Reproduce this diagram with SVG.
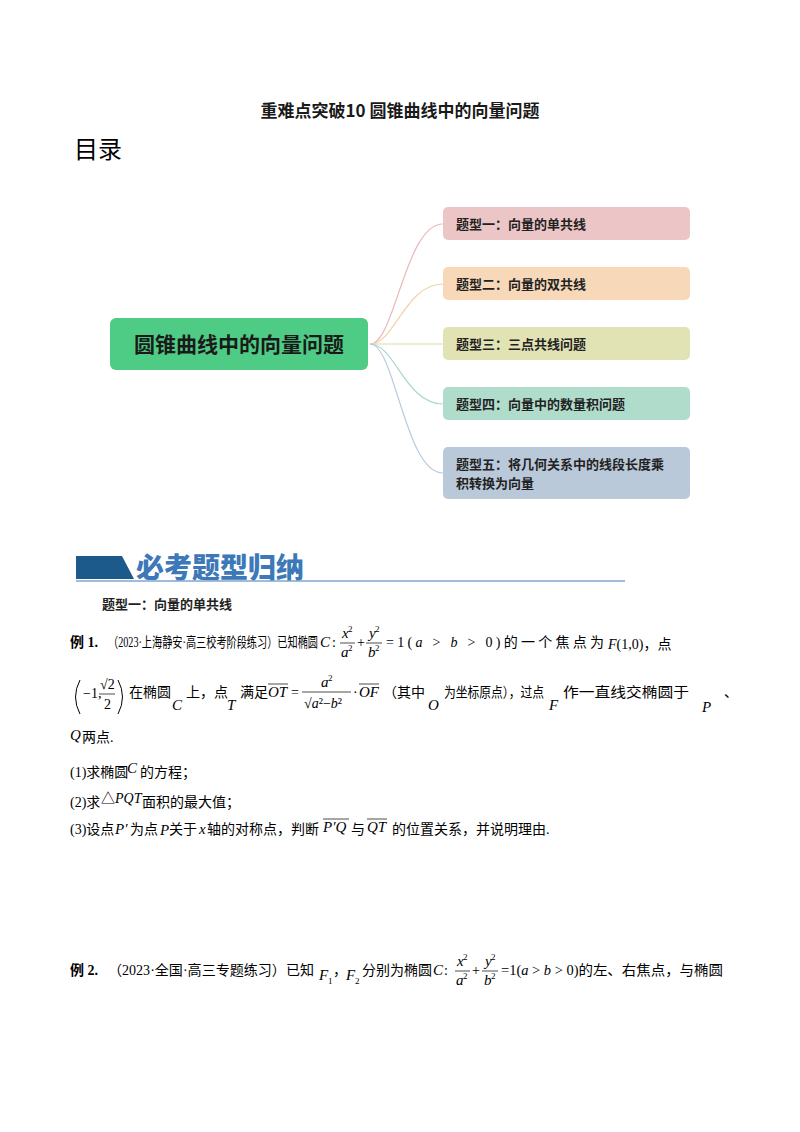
<svg xmlns="http://www.w3.org/2000/svg" width="800" height="1132" viewBox="0 0 800 1132">
<style>
.t{font-family:"Liberation Serif","Noto Sans CJK SC",serif;font-size:14px;fill:#000}
.h{font-family:"Noto Sans CJK SC",sans-serif;font-weight:bold;fill:#1a1a1a}
.b{font-family:"Noto Sans CJK SC",sans-serif;font-weight:bold;font-size:13px;fill:#222}
.m{font-family:"Liberation Serif",serif;font-style:italic;font-size:15px}
.s{font-family:"Liberation Serif",serif;font-size:9px}
.c{fill:none;stroke-width:1.2}
.v{stroke:#000;stroke-width:0.7}
</style>
<rect width="800" height="1132" fill="#fff"/>
<text class="h" x="400" y="117" font-size="17" text-anchor="middle">重难点突破10  圆锥曲线中的向量问题</text>
<text x="74" y="158" font-family="Noto Sans CJK SC,sans-serif" font-size="24" fill="#000">目录</text>
<g id="connectors">
<path class="c" stroke="#e8b8b8" d="M370 344 C395 344 405 224 443 224"/>
<path class="c" stroke="#f2d2a8" d="M370 344 C395 344 405 284 443 284"/>
<path class="c" stroke="#dcdca0" d="M370 344 L443 344"/>
<path class="c" stroke="#a8d8c8" d="M370 344 C395 344 405 404 443 404"/>
<path class="c" stroke="#b8cce0" d="M370 344 C395 344 405 473 443 473"/>
</g>
<g id="root"><rect x="110" y="318" width="258" height="52" rx="6" fill="#4ecb84"/><text class="h" x="239" y="352" font-size="21" text-anchor="middle">圆锥曲线中的向量问题</text></g>
<g id="n1"><rect x="443" y="207" width="247" height="33" rx="5" fill="#ecc6c6"/><text class="b" x="456" y="229">题型一：向量的单共线</text></g>
<g id="n2"><rect x="443" y="267" width="247" height="33" rx="5" fill="#f7d8b9"/><text class="b" x="456" y="289">题型二：向量的双共线</text></g>
<g id="n3"><rect x="443" y="327" width="247" height="33" rx="5" fill="#e1e3b4"/><text class="b" x="456" y="349">题型三：三点共线问题</text></g>
<g id="n4"><rect x="443" y="387" width="247" height="33" rx="5" fill="#b0dccc"/><text class="b" x="456" y="409">题型四：向量中的数量积问题</text></g>
<g id="n5"><rect x="443" y="447" width="247" height="52" rx="5" fill="#bac9d9"/><text class="b" x="456" y="469">题型五：将几何关系中的线段长度乘</text><text class="b" x="456" y="488">积转换为向量</text></g>
<polygon points="76,556 122,556 134,579 76,579" fill="#1d5a8c"/>
<text x="136" y="578" font-family="Noto Sans CJK SC,sans-serif" font-weight="900" font-size="28" fill="#3d79b8">必考题型归纳</text>
<line x1="76" y1="581" x2="625" y2="581" stroke="#7fa6cf" stroke-width="1.5"/>
<text class="b" x="102" y="609">题型一：向量的单共线</text>

<text class="t" x="70" y="647" font-weight="bold">例 1.</text>
<text class="t" x="108" y="647" textLength="210" lengthAdjust="spacingAndGlyphs">（2023·上海静安·高三校考阶段练习）已知椭圆</text>
<text class="m" x="320" y="647">C</text><text class="t" x="332" y="647">:</text>
<text class="m" x="342" y="638" font-size="12">x</text><text class="s" x="348" y="632">2</text><line class="v" x1="340" y1="643" x2="355" y2="643"/><text class="m" x="341" y="657" font-size="12">a</text><text class="s" x="348" y="651">2</text>
<text class="t" x="357" y="647" font-size="12">+</text>
<text class="m" x="369" y="638" font-size="12">y</text><text class="s" x="375" y="632">2</text><line class="v" x1="366" y1="643" x2="382" y2="643"/><text class="m" x="368" y="657" font-size="12">b</text><text class="s" x="375" y="651">2</text>
<text class="t" x="386" y="647" textLength="218" lengthAdjust="spacing">=1(<tspan font-style="italic">a</tspan> &gt; <tspan font-style="italic">b</tspan> &gt; 0)的一个焦点为</text>
<text class="t" x="608" y="649"><tspan font-style="italic">F</tspan>(1,0)，点</text>

<path d="M80 680 Q71 697 80 714" fill="none" stroke="#000" stroke-width="1"/>
<text class="t" x="83" y="698" font-size="13">−1,</text>
<text class="t" x="100" y="689" font-size="12">√2</text><line class="v" x1="99" y1="694" x2="115" y2="694"/><text class="t" x="104" y="709" font-size="12">2</text>
<path d="M118 680 Q127 697 118 714" fill="none" stroke="#000" stroke-width="1"/>
<text class="t" x="129" y="697">在椭圆</text><text class="m" x="172" y="710">C</text><text class="t" x="186" y="697">上，点</text><text class="m" x="227" y="710">T</text>
<text class="t" x="240" y="697">满足</text><text class="m" x="268" y="697">OT</text><line class="v" x1="268" y1="684" x2="288" y2="684"/><text class="t" x="291" y="697">=</text>
<text class="m" x="321" y="687" font-size="12">a</text><text class="s" x="328" y="681">2</text><line class="v" x1="302" y1="692" x2="351" y2="692"/><text class="t" x="304" y="708" font-size="12">√<tspan font-style="italic">a</tspan>²−<tspan font-style="italic">b</tspan>²</text>
<text class="t" x="353" y="697">·</text><text class="m" x="359" y="697">OF</text><line class="v" x1="359" y1="684" x2="379" y2="684"/>
<text class="t" x="383" y="697">（其中</text><text class="m" x="428" y="710">O</text><text class="t" x="444" y="697" textLength="100" lengthAdjust="spacingAndGlyphs">为坐标原点），过点</text><text class="m" x="549" y="710">F</text><text class="t" x="563" y="697" textLength="126" lengthAdjust="spacingAndGlyphs">作一直线交椭圆于</text><text class="m" x="702" y="712" font-size="12">P</text><text class="t" x="724" y="697">、</text>
<text class="m" x="70" y="740">Q</text><text class="t" x="82" y="742">两点.</text>
<text class="t" x="70" y="777">(1)求椭圆</text><text class="m" x="127" y="773">C</text><text class="t" x="140" y="777">的方程；</text>
<text class="t" x="70" y="807">(2)求</text><text class="t" x="101" y="803" font-size="13">△<tspan font-style="italic">PQT</tspan></text><text class="t" x="142" y="807">面积的最大值；</text>
<text class="t" x="70" y="834">(3)设点</text><text class="m" x="115" y="834">P′</text><text class="t" x="130" y="834">为点</text><text class="m" x="160" y="835" font-size="11">P</text><text class="t" x="169" y="834">关于</text><text class="m" x="199" y="834" font-size="12">x</text><text class="t" x="207" y="834">轴的对称点，判断</text>
<text class="m" x="323" y="832">P′Q</text><line class="v" x1="323" y1="819" x2="349" y2="819"/><text class="t" x="351" y="834">与</text><text class="m" x="367" y="832">QT</text><line class="v" x1="367" y1="819" x2="387" y2="819"/><text class="t" x="392" y="834">的位置关系，并说明理由.</text>

<text class="t" x="70" y="975" font-weight="bold">例 2.</text>
<text class="t" x="108" y="975" textLength="206" lengthAdjust="spacingAndGlyphs">（2023·全国·高三专题练习）已知</text>
<text class="m" x="319" y="980">F</text><text class="s" x="328" y="984">1</text><text class="t" x="333" y="975">，</text><text class="m" x="346" y="980">F</text><text class="s" x="355" y="984">2</text>
<text class="t" x="362" y="975">分别为椭圆</text><text class="m" x="433" y="975">C</text><text class="t" x="444" y="975">:</text>
<text class="m" x="457" y="966" font-size="12">x</text><text class="s" x="463" y="960">2</text><line class="v" x1="455" y1="971" x2="470" y2="971"/><text class="m" x="456" y="985" font-size="12">a</text><text class="s" x="463" y="979">2</text>
<text class="t" x="472" y="975" font-size="12">+</text>
<text class="m" x="485" y="966" font-size="12">y</text><text class="s" x="491" y="960">2</text><line class="v" x1="482" y1="971" x2="498" y2="971"/><text class="m" x="484" y="985" font-size="12">b</text><text class="s" x="491" y="979">2</text>
<text class="t" x="501" y="975" textLength="222" lengthAdjust="spacingAndGlyphs">=1(<tspan font-style="italic">a</tspan> &gt; <tspan font-style="italic">b</tspan> &gt; 0)的左、右焦点，与椭圆</text>
</svg>
